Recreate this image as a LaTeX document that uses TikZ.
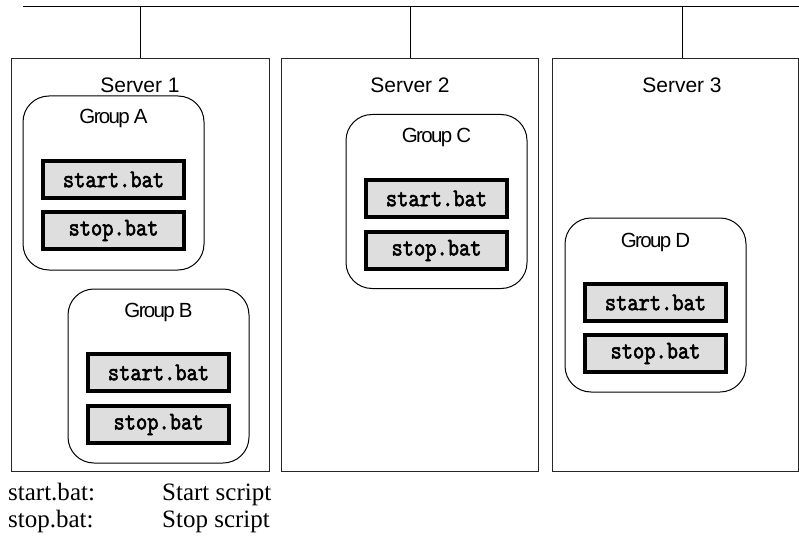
\documentclass[tikz,border=0pt]{standalone}
\usepackage{fontspec}
\setmainfont{Liberation Serif}
\newfontfamily\srvfont{Liberation Sans}
\newfontfamily\grpfont[LetterSpace=-8]{Liberation Sans}
\newfontfamily\batfont[FakeBold=2.2,FakeStretch=0.84]{lmmono10-regular.otf}
\begin{document}
\begin{tikzpicture}[x=1pt,y=-1pt,
  server/.style={draw=black!85, line width=1pt, minimum width=#1, minimum height=412pt, inner sep=0pt},
  group/.style={draw=black, line width=1pt, rounded corners=26pt, minimum width=181pt, minimum height=174pt, inner sep=0pt},
  script/.style={draw=black, line width=3.6pt, fill=black!13, minimum width=141.5pt, minimum height=37.5pt, inner sep=0pt, font=\fontsize{25.5}{25.5}\batfont},
  srvlabel/.style={anchor=base, font=\fontsize{21}{21}\srvfont},
  grplabel/.style={anchor=base, font=\fontsize{20.5}{20.5}\grpfont},
  legend/.style={anchor=base west, inner sep=0pt, font=\fontsize{25}{25}\selectfont},
  wire/.style={draw=black, line width=1pt}]
\useasboundingbox (0,0) rectangle (799,545);
% bus
\coordinate (busL) at (23,7);
\coordinate (busR) at (799,7);
\draw[wire] (busL) -- (busR);
% servers
\node[server=258pt] (s1) at (140,265) {};
\node[server=257pt] (s2) at (410,265) {};
\node[server=246pt] (s3) at (675,265) {};
\coordinate (b1) at (140,7);
\coordinate (b2) at (410,7);
\coordinate (b3) at (682,7);
\draw[wire] (b1) -- (s1.north);
\draw[wire] (b2) -- (s2.north);
\draw[wire] (b3) -- (b3 |- s3.north);
\node[srvlabel] (l1) at (140,93) {Server 1};
\node[srvlabel] (l2) at (410,93) {Server 2};
\node[srvlabel] (l3) at (682,93) {Server 3};
% groups
\node[group] (gA) at (113.5,183) {};
\node[group] (gB) at (158.5,376) {};
\node[group] (gC) at (436.5,201.5) {};
\node[group] (gD) at (655.5,305) {};
\node[grplabel] (tA) at (113.5,124) {Group A};
\node[grplabel] (tB) at (158.5,317) {Group B};
\node[grplabel] (tC) at (436.5,143) {Group C};
\node[grplabel] (tD) at (655.5,247) {Group D};
% scripts
\node[script] (a1) at (113.5,179.5) {start.bat};
\node[script] (a2) at (113.5,230.5) {stop.bat};
\node[script] (b1s) at (158.5,372.5) {start.bat};
\node[script] (b2s) at (158.5,424.5) {stop.bat};
\node[script] (c1) at (436.5,198.5) {start.bat};
\node[script] (c2) at (436.5,250.5) {stop.bat};
\node[script] (d1) at (655.5,302.5) {start.bat};
\node[script] (d2) at (655.5,353.5) {stop.bat};
% legend
\node[legend] (k1) at (8,500) {start.bat:};
\node[legend] (v1) at (162,500) {Start script};
\node[legend] (k2) at (8,527) {stop.bat:};
\node[legend] (v2) at (162,527) {Stop script};
\end{tikzpicture}
\end{document}
